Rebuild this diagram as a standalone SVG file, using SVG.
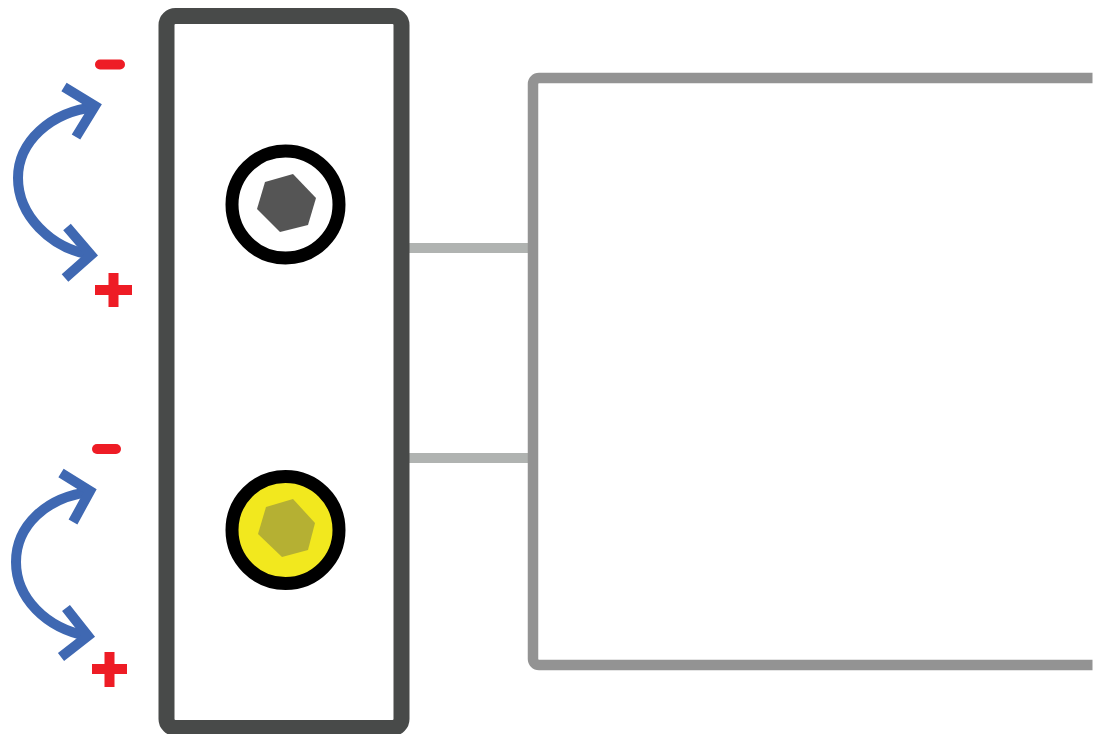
<svg xmlns="http://www.w3.org/2000/svg" width="1096" height="734" viewBox="0 0 1096 734">
<style>
.arrow{fill:none;stroke:#3f68b2;stroke-width:10;stroke-linecap:butt;stroke-linejoin:miter}
.sign{fill:none;stroke:#ee1c25;stroke-width:10}
.ring{stroke:#000;stroke-width:13}
.link{stroke:#b0b3b1;stroke-width:10;fill:none}
</style>
<rect width="1096" height="734" fill="#fff"/>
<g id="connectors">
<line class="link" x1="405" y1="248" x2="530" y2="248"/>
<line class="link" x1="405" y1="458" x2="530" y2="458"/>
</g>
<g id="panel">
<path d="M1092.500,78 H539 A6,6 0 0 0 533,84 V659 A6,6 0 0 0 539,665 H1092.500" fill="none" stroke="#939393" stroke-width="10.500"/>
</g>
<g id="housing">
<rect x="166.500" y="16" width="235" height="712" rx="9" fill="none" stroke="#484a49" stroke-width="16"/>
</g>
<g id="screw-top">
<circle class="ring" cx="285.500" cy="204.500" r="53.500" fill="#fff"/>
<polygon points="293,174 316,198 308,225 280,232 257,209 265,182" fill="#555555"/>
</g>
<g id="screw-bottom">
<circle class="ring" cx="285.500" cy="530" r="53.500" fill="#f2e81e"/>
<polygon points="293,499 315,523 308,550 282,557 258,534 266,507" fill="#b5b033"/>
</g>
<g id="adjust-top">
<path class="arrow" d="M95,107 C50,112 18,142 18,178 C18,215 50,248 91,255"/>
<path class="arrow" d="M64,87 L95,106 L76,137"/>
<path class="arrow" d="M67,227 L91,255 L65,278"/>
<line class="sign" x1="100" y1="64.500" x2="120" y2="64.500" stroke-linecap="round"/>
<path class="sign" d="M95,290 H132 M113.500,273 V307"/>
</g>
<g id="adjust-bottom">
<path class="arrow" d="M90,492 C46,497 16,526 16,562 C16,598 46,628 87,636"/>
<path class="arrow" d="M61,473 L90,491 L73,522"/>
<path class="arrow" d="M66,608 L88,636 L61,657"/>
<line class="sign" x1="97" y1="449" x2="116" y2="449" stroke-linecap="round"/>
<path class="sign" d="M92,669 H127 M109.500,652 V687"/>
</g>
</svg>
